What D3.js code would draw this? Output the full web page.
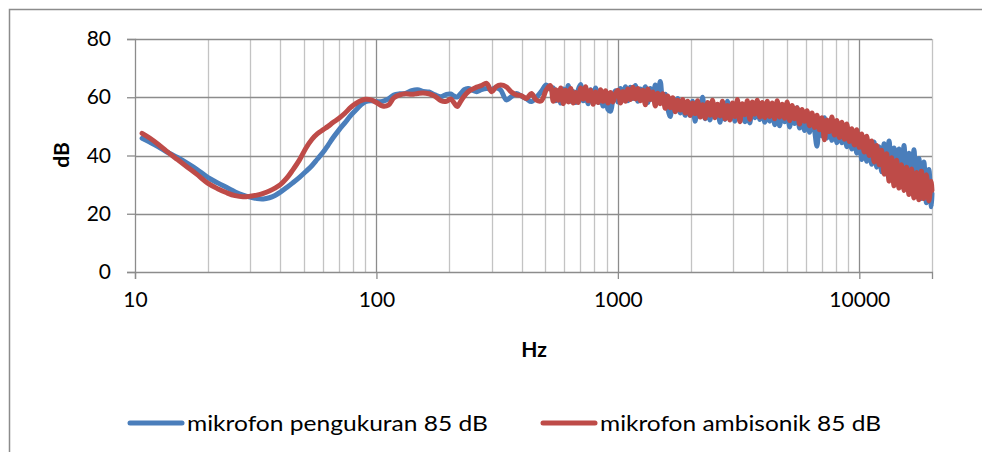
<!DOCTYPE html>
<html>
<head>
<meta charset="utf-8">
<script src="https://cdn.jsdelivr.net/npm/d3@7"></script>
<style>
  body { margin: 0; background: #fff; }
  text { font-family: Lato, "Open Sans", sans-serif; fill: #000; }
</style>
</head>
<body>
<svg id="chart" width="982" height="452"></svg>
<script>
// frequency grid shared by both series (Hz)
var hz = [10.7, 11.5, 12.5, 13.5, 15, 16.5, 18, 20, 22, 24, 26, 28, 30, 32, 34, 36, 38, 40, 42.5, 45,
  48, 51, 54, 57, 60, 63, 66, 70, 74, 78, 82, 86, 90, 95, 100, 106, 112, 118, 125, 132,
  140, 148, 156, 165, 175, 185, 195, 203, 210, 216, 223, 231, 240, 250, 260, 272, 286, 300, 313, 327,
  345, 362, 380, 398, 418, 438, 460, 482, 505, 525,
  540, 553, 566, 580, 594, 608, 623, 638, 653, 669, 685, 701, 718, 735, 753, 771, 790, 809, 828, 848,
  868, 889, 910, 932, 955, 978, 1000, 1025, 1050, 1075, 1100, 1127, 1154, 1182, 1210, 1239, 1269, 1300, 1331, 1363,
  1395, 1429, 1463, 1498, 1534, 1571, 1609, 1648, 1687, 1728, 1769, 1812, 1855, 1900, 1945, 1992, 2040, 2089, 2139, 2190,
  2243, 2297, 2352, 2408, 2466, 2525, 2586, 2648, 2711, 2776, 2843, 2911, 2981, 3053, 3126, 3201, 3278, 3357, 3437, 3520,
  3604, 3691, 3779, 3870, 3963, 4058, 4155, 4255, 4357, 4462, 4569, 4678, 4791, 4906, 5023, 5144, 5267, 5394, 5523, 5656,
  5791, 5930, 6073, 6218, 6368, 6520, 6677, 6837, 7001, 7169, 7341, 7518, 7698, 7883, 8072, 8266, 8464, 8667, 8875, 9088,
  9307, 9530, 9759, 9993, 10233, 10478, 10730, 10987, 11251, 11521, 11798, 12081, 12371, 12668, 12972, 13283, 13602, 13928, 14263, 14605,
  14956, 15315, 15682, 16059, 16444, 16839, 17243, 17657, 18080, 18514, 18959, 19414, 19880, 20000];

// mikrofon pengukuran 85 dB
var blueDb = [45.9, 44.6, 43.0, 41.3, 39.3, 37.3, 35.3, 32.5, 30.6, 29.0, 27.5, 26.4, 25.7, 25.2, 25.1, 25.5, 26.3, 27.4, 29.0, 30.6,
  32.5, 34.5, 36.5, 38.8, 41.0, 43.5, 46.0, 48.8, 51.2, 53.6, 55.5, 57.3, 58.5, 58.8, 58.5, 58.6, 59.4, 60.8, 61.2, 61.3,
  62.3, 62.6, 62.0, 61.8, 60.8, 60.2, 61.0, 61.1, 60.4, 60.1, 61.2, 62.6, 63.0, 62.4, 61.9, 62.6, 63.0, 62.7, 63.3, 62.5,
  59.1, 60.2, 61.3, 60.4, 59.5, 58.5, 60.0, 62.0, 64.2, 62.8,
  63.2, 58.8, 62.2, 58.0, 62.8, 59.4, 64.0, 58.6, 62.0, 58.2, 62.6, 64.4, 58.8, 61.6, 57.8, 62.6, 59.8, 63.2, 58.2, 61.8,
  57.0, 60.6, 55.8, 55.2, 59.8, 62.2,
  58.4, 63.0, 59.2, 63.6, 58.8, 63.4, 59.6, 64.0, 58.6, 62.8, 59.6, 63.6, 58.2, 63.0, 59.2, 64.2, 60.2, 65.4,
  58.8, 61.0, 56.2, 53.4, 59.4, 55.4, 59.6, 54.6, 58.8, 53.8,
  58.4, 53.8, 58.6, 51.8, 58.0, 53.4, 60.0, 52.6, 57.6, 52.2,
  58.2, 53.2, 57.4, 51.4, 56.8, 52.4, 58.6, 52.8, 57.4, 51.8,
  58.2, 53.6, 57.2, 51.6, 56.8, 51.2, 57.4, 53.0, 58.0, 52.4,
  57.4, 51.4, 56.6, 51.8, 57.8, 50.6, 56.2, 50.2, 56.6, 51.6,
  57.0, 49.8, 55.8, 51.0, 56.4, 49.4, 54.8, 48.6, 54.2, 48.0,
  53.4, 49.0, 43.2, 52.0, 46.8, 53.0, 46.0, 51.8, 45.2, 51.0,
  44.4, 50.4, 44.4, 49.6, 43.0, 48.4, 42.2, 47.6, 40.8, 46.2,
  38.6, 45.0, 38.0, 44.4, 37.0, 44.6, 36.0, 43.0, 34.4, 44.0,
  33.6, 45.0, 32.4, 42.6, 31.0, 42.2, 29.8, 43.4, 28.6, 40.8,
  27.4, 42.0, 26.0, 39.0, 25.2, 37.8, 23.8, 35.2, 22.4, 27.0];

// mikrofon ambisonik 85 dB
var redDb = [47.6, 46.0, 43.8, 41.5, 38.6, 36.0, 33.6, 30.5, 28.6, 27.2, 26.2, 25.8, 26.0, 26.4, 27.0, 27.8, 28.8, 30.0, 32.2, 35.0,
  38.5, 42.5, 45.5, 47.5, 48.8, 50.0, 51.3, 52.8, 54.5, 56.4, 57.8, 58.8, 59.3, 59.1, 58.2, 57.0, 57.3, 59.8, 60.8, 61.2,
  61.0, 61.3, 61.5, 61.2, 60.3, 58.8, 58.6, 59.4, 58.0, 56.8, 58.5, 60.4, 61.9, 62.8, 63.5, 64.0, 64.8, 61.9, 63.6, 64.2,
  63.6, 61.8, 60.8, 60.6, 59.6, 61.3, 59.0, 58.8, 62.5, 64.0,
  58.6, 62.6, 59.0, 63.2, 57.8, 62.4, 58.4, 63.0, 58.0, 61.6, 58.2, 63.2, 59.4, 63.6, 58.8, 62.4, 57.6, 61.8, 58.2, 62.6,
  58.6, 62.2, 58.0, 61.6, 58.4, 61.2,
  62.4, 58.0, 62.0, 58.6, 62.8, 59.2, 63.4, 59.4, 63.0, 58.8, 62.4, 57.4, 62.8, 59.2, 61.8, 57.0, 61.4, 57.8,
  61.2, 56.2, 60.4, 56.4, 59.8, 55.0, 59.0, 55.6, 59.2, 54.6,
  58.6, 53.8, 58.0, 54.4, 58.8, 53.2, 57.4, 52.8, 58.2, 53.8,
  59.0, 53.0, 57.6, 53.6, 58.6, 52.6, 57.2, 52.2, 58.0, 53.4,
  59.2, 51.6, 57.8, 54.0, 58.8, 52.4, 58.4, 54.2, 59.0, 53.2,
  58.2, 53.0, 58.6, 53.4, 58.0, 52.6, 58.8, 53.2, 57.6, 52.8,
  58.4, 52.0, 57.2, 52.6, 56.4, 50.8, 55.8, 51.8, 55.4, 50.2,
  54.6, 49.6, 53.8, 48.8, 53.0, 45.4, 52.2, 48.2, 53.2, 47.0,
  52.0, 46.2, 51.4, 45.6, 50.8, 44.8, 49.2, 43.6, 48.8, 42.8,
  47.4, 41.2, 46.6, 40.0, 45.0, 37.8, 43.4, 36.8, 41.8, 33.6,
  40.6, 31.2, 39.2, 29.6, 38.4, 28.8, 36.8, 28.0, 36.0, 26.6,
  35.4, 25.4, 34.2, 24.8, 34.6, 25.2, 33.4, 24.4, 31.2, 28.0];

var seriesNames = ["mikrofon pengukuran 85 dB", "mikrofon ambisonik 85 dB"];
var seriesColors = ["#4a7ebb", "#be4b48"];
var xTicks = [10, 100, 1000, 10000];
var yTicks = [0, 20, 40, 60, 80];

var svg = d3.select("#chart");
var plotLeft = 135, plotRight = 932, plotTop = 39, plotBottom = 272;

// outer chart border
svg.append("rect")
  .attr("x", 9.5).attr("y", 9.5)
  .attr("width", 1000).attr("height", 1000)
  .attr("fill", "none").attr("stroke", "#8c8c8c").attr("stroke-width", 1.5);

var x = d3.scaleLog().domain([10, 20000]).range([plotLeft, plotRight]);
var y = d3.scaleLinear().domain([0, 80]).range([plotBottom, plotTop]);

// minor vertical grid
var minor = [];
[10, 100, 1000, 10000].forEach(function(d) {
  for (var k = 2; k <= 9; k++) if (d * k <= 20000) minor.push(d * k);
});
svg.append("g").selectAll("line").data(minor).enter().append("line")
  .attr("x1", function(d) { return Math.round(x(d)) + 0.5; })
  .attr("x2", function(d) { return Math.round(x(d)) + 0.5; })
  .attr("y1", plotTop).attr("y2", plotBottom)
  .attr("stroke", "#c3c3c3").attr("stroke-width", 1.3);

svg.append("g").selectAll("line").data([100, 1000, 10000]).enter().append("line")
  .attr("x1", function(d) { return Math.round(x(d)) + 0.5; })
  .attr("x2", function(d) { return Math.round(x(d)) + 0.5; })
  .attr("y1", plotTop).attr("y2", plotBottom)
  .attr("stroke", "#8c8c8c").attr("stroke-width", 1.3);

svg.append("g").selectAll("line").data(yTicks.slice(1)).enter().append("line")
  .attr("x1", plotLeft).attr("x2", plotRight)
  .attr("y1", function(d) { return Math.round(y(d)) + 0.5; })
  .attr("y2", function(d) { return Math.round(y(d)) + 0.5; })
  .attr("stroke", "#8c8c8c").attr("stroke-width", 1.3);

// axes
var yAxis = svg.append("g")
  .attr("transform", "translate(" + plotLeft + ",0)")
  .call(d3.axisLeft(y).tickValues(yTicks).tickSize(8).tickPadding(16));
var xAxis = svg.append("g")
  .attr("transform", "translate(0," + plotBottom + ")")
  .call(d3.axisBottom(x).tickValues(xTicks).tickFormat(d3.format("d")).tickSize(7).tickPadding(13));
[xAxis, yAxis].forEach(function(g) {
  g.select(".domain").attr("stroke", "#8c8c8c").attr("stroke-width", 1.3);
  g.selectAll(".tick line").attr("stroke", "#8c8c8c").attr("stroke-width", 1.3);
  g.selectAll("text").style("font-family", "Lato, sans-serif").style("font-size", "21px").attr("fill", "#000");
});

// axis titles
svg.append("text").attr("x", 534).attr("y", 357).attr("text-anchor", "middle")
  .style("font-size", "21px").style("font-weight", "bold").text("Hz");
svg.append("text").attr("transform", "translate(69,155) rotate(-90)").attr("text-anchor", "middle")
  .style("font-size", "21px").style("font-weight", "bold").text("dB");

// series
var line = d3.line()
  .x(function(d) { return x(d[0]); })
  .y(function(d) { return y(d[1]); })
  .curve(d3.curveCatmullRom.alpha(0.5));

[blueDb, redDb].forEach(function(vals, i) {
  svg.append("path")
    .datum(hz.map(function(f, j) { return [f, vals[j]]; }))
    .attr("d", line)
    .attr("fill", "none")
    .attr("stroke", seriesColors[i])
    .attr("stroke-width", 5)
    .attr("stroke-linejoin", "round")
    .attr("stroke-linecap", "round");
});

// legend
var legendX = [128, 541];
var legendW = [301, 281];
var legend = svg.append("g").selectAll("g").data(seriesNames).enter().append("g")
  .attr("transform", function(d, i) { return "translate(" + legendX[i] + ",423)"; });
legend.append("line").attr("x1", 2).attr("x2", 54).attr("y1", 0).attr("y2", 0)
  .attr("stroke", function(d, i) { return seriesColors[i]; })
  .attr("stroke-width", 5).attr("stroke-linecap", "round");
legend.append("text").attr("x", 59).attr("y", 7.5)
  .attr("textLength", function(d, i) { return legendW[i]; })
  .attr("lengthAdjust", "spacingAndGlyphs")
  .style("font-size", "21px").text(function(d) { return d; });
</script>
</body>
</html>
